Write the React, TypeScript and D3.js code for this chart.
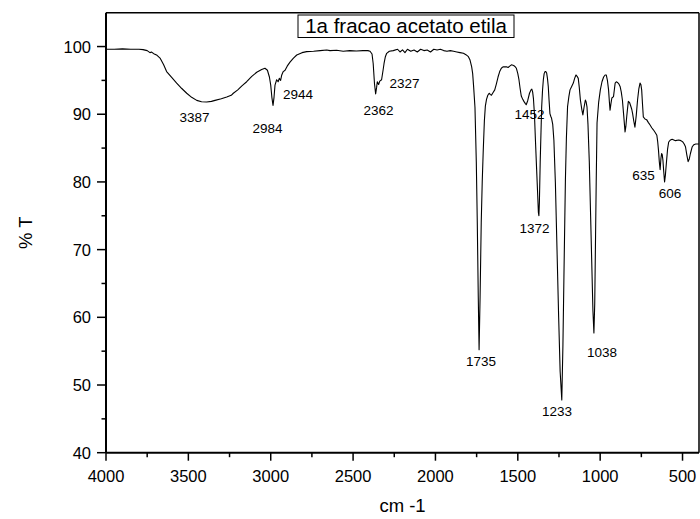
import React from "react";
import * as d3 from "d3";

const wavenumbers: number[] = [
  4000, 3950, 3900, 3850, 3800, 3775, 3750, 3733, 3725, 3710, 3690, 3672, 3650, 3632, 3600, 3571, 3540, 3510, 3480, 3449,
  3420, 3389, 3360, 3338, 3300, 3267, 3240, 3227, 3200, 3175, 3146, 3115, 3085, 3055, 3035, 3020, 3008, 3000, 2993, 2986,
  2980, 2974, 2964, 2955, 2948, 2940, 2933, 2924, 2913, 2900, 2883, 2862, 2842, 2810, 2782, 2740, 2700, 2660, 2640, 2600,
  2560, 2520, 2480, 2440, 2410, 2397, 2385, 2378, 2370, 2363, 2357, 2353, 2345, 2338, 2327, 2318, 2312, 2304, 2296, 2280,
  2256, 2230, 2215, 2200, 2185, 2170, 2150, 2130, 2110, 2090, 2070, 2050, 2030, 2010, 1990, 1970, 1950, 1930, 1910, 1890,
  1870, 1851, 1830, 1815, 1800, 1790, 1780, 1774, 1768, 1760, 1752, 1746, 1740, 1735, 1729, 1722, 1716, 1710, 1703, 1697,
  1690, 1682, 1674, 1666, 1660, 1650, 1640, 1630, 1620, 1610, 1600, 1590, 1579, 1569, 1559, 1549, 1539, 1525, 1515, 1509,
  1500, 1493, 1486, 1479, 1470, 1463, 1455, 1449, 1440, 1429, 1420, 1415, 1410, 1405, 1399, 1393, 1386, 1380, 1375, 1372,
  1369, 1364, 1358, 1355, 1350, 1345, 1340, 1335, 1330, 1325, 1320, 1315, 1310, 1305, 1300, 1295, 1288, 1281, 1272, 1262,
  1252, 1243, 1233, 1226, 1220, 1215, 1211, 1205, 1198, 1190, 1183, 1173, 1163, 1155, 1147, 1140, 1133, 1127, 1120, 1112,
  1105, 1098, 1090, 1085, 1080, 1074, 1066, 1058, 1050, 1044, 1038, 1033, 1028, 1024, 1019, 1009, 999, 989, 979, 970,
  963, 956, 949, 944, 940, 935, 929, 919, 913, 909, 902, 895, 887, 879, 872, 865, 857, 849, 844, 839,
  834, 829, 821, 813, 808, 803, 796, 789, 781, 773, 765, 758, 753, 748, 743, 738, 728, 718, 708, 697,
  687, 677, 666, 656, 651, 646, 641, 636, 631, 627, 623, 619, 614, 609, 604, 598, 591, 584, 573, 563,
  543, 523, 510, 498, 490, 482, 474, 466, 459, 452, 441, 431, 420, 411, 400,
];

const transmittance: number[] = [
  99.6, 99.6, 99.65, 99.6, 99.6, 99.55, 99.4, 99.1, 99.2, 98.95, 98.7, 98.3, 97.3, 96.3, 95.4, 94.6, 93.8, 93.1, 92.5, 92.05,
  91.85, 91.8, 91.9, 92.05, 92.3, 92.55, 92.8, 93.1, 93.6, 94.2, 94.8, 95.6, 96.2, 96.6, 96.8, 96.5, 95.5, 94.3, 92.5, 91.3,
  92.5, 94.3, 95.1, 94.8, 95.3, 95.0, 95.8, 96.3, 96.5, 97.1, 97.7, 98.3, 98.75, 99.1, 99.25, 99.3, 99.4, 99.5, 99.4, 99.45,
  99.3, 99.4, 99.35, 99.4, 99.4, 99.3, 98.9, 97.5, 94.5, 93.0, 94.0, 94.8, 94.4, 94.9, 95.1, 96.5, 97.5, 98.5, 99.0, 99.3,
  99.4, 99.6, 99.2, 99.5, 99.1, 99.6, 99.3, 99.5, 99.2, 99.6, 99.4, 99.5, 99.2, 99.6, 99.5, 99.6, 99.4, 99.3, 99.4, 99.3,
  99.2, 99.1, 99.0, 98.8, 98.5, 98.0, 97.0, 96.0, 94.0, 91.0, 83.0, 74.0, 63.0, 55.2, 63.0, 74.0, 80.0, 84.5, 89.0, 91.2,
  92.2, 92.8, 93.1, 92.9, 92.8, 93.2, 93.6, 94.5, 95.5, 96.3, 96.8, 97.0, 97.0, 97.0, 96.9, 97.1, 97.3, 97.2, 97.0, 96.8,
  96.0, 95.1, 93.8, 92.7, 92.2, 91.9, 91.6, 91.4, 92.0, 93.1, 93.6, 93.7, 93.3, 92.3, 90.0, 86.2, 82.0, 78.5, 75.5, 75.0,
  77.0, 83.0, 88.5, 91.1, 93.5, 95.1, 96.0, 96.3, 96.3, 96.1, 95.3, 94.1, 92.0, 90.1, 89.7, 89.4, 88.5, 86.2, 80.0, 70.0,
  60.0, 52.0, 47.8, 56.0, 66.0, 74.0, 80.3, 86.5, 91.1, 92.6, 93.6, 94.1, 94.6, 95.3, 95.8, 95.6, 95.3, 94.0, 92.1, 90.8,
  89.9, 91.0, 92.1, 91.8, 91.1, 88.5, 83.0, 75.0, 67.0, 61.0, 57.7, 62.0, 72.0, 80.0, 88.7, 91.8, 93.6, 94.8, 95.5, 95.8,
  95.8, 95.0, 93.6, 91.8, 90.6, 91.5, 92.4, 92.6, 93.8, 94.6, 94.8, 94.7, 94.5, 94.1, 93.3, 92.1, 89.8, 87.4, 88.2, 89.6,
  90.8, 91.9, 91.7, 91.1, 90.7, 90.1, 89.0, 88.1, 89.8, 92.1, 93.8, 94.6, 94.4, 93.6, 91.5, 89.6, 89.3, 89.2, 88.8, 88.4,
  88.0, 87.7, 87.3, 86.9, 86.0, 84.7, 83.0, 81.8, 83.5, 84.2, 84.0, 83.2, 81.5, 80.0, 81.0, 82.8, 84.8, 85.9, 86.2, 86.3,
  86.1, 86.2, 86.1, 85.9, 85.6, 85.2, 84.0, 83.0, 83.4, 84.2, 85.2, 85.5, 85.6, 85.6, 85.6,
];

// Peak annotations: text, anchor wavenumber (text centre), anchor %T (baseline)
const peakLabels: string[] = ["3387", "2984", "2944", "2362", "2327", "1452", "1372", "1735", "1233", "1038", "635", "606"];
const peakLabelX: number[] = [3463, 3019, 2834, 2346, 2188, 1429, 1399, 1723, 1262, 989, 737, 576];
const peakLabelY: number[] = [88.8, 87.2, 92.25, 89.9, 93.9, 89.3, 72.5, 52.8, 45.4, 54.1, 80.3, 77.6];

const xMajorTicks: number[] = [4000, 3500, 3000, 2500, 2000, 1500, 1000, 500];
const xMinorTicks: number[] = [3750, 3250, 2750, 2250, 1750, 1250, 750];
const yMajorTicks: number[] = [40, 50, 60, 70, 80, 90, 100];
const yMinorTicks: number[] = [45, 55, 65, 75, 85, 95];

const title = "1a fracao acetato etila";
const xTitle = "cm -1";
const yTitle = "% T";

export default function App() {
  const W = 700;
  const H = 519;
  const left = 106;
  const right = 699;
  const top = 12.7;
  const bottom = 452.7;
  const font = "'Liberation Sans', Arial, Helvetica, sans-serif";

  const x = d3.scaleLinear().domain([4000, 400]).range([left, right]);
  const y = d3.scaleLinear().domain([40, 105]).range([bottom, top]);

  const pts = wavenumbers.map((w, i) => [w, transmittance[i]] as [number, number]);
  const line = d3
    .line<[number, number]>()
    .x((d) => x(d[0]))
    .y((d) => y(d[1]));
  const path = line(pts) || "";

  return (
    <svg
      width={W}
      height={H}
      style={{ position: "absolute", left: 0, top: 0, background: "#fff" }}
      fontFamily={font}
    >
      <rect x={0} y={0} width={W} height={H} fill="#fff" />
      <path d={path} fill="none" stroke="#000" strokeWidth={1.1} strokeLinejoin="round" />

      {/* frame */}
      <line x1={left} x2={right} y1={top} y2={top} stroke="#000" strokeWidth={1.5} />
      <line x1={right} x2={right} y1={top} y2={bottom} stroke="#000" strokeWidth={1.5} />
      <line x1={left} x2={right} y1={bottom} y2={bottom} stroke="#000" strokeWidth={2} />
      <line x1={left} x2={left} y1={top} y2={bottom} stroke="#000" strokeWidth={2} />

      {/* x ticks */}
      {xMajorTicks.map((t) => (
        <g key={"xm" + t}>
          <line x1={x(t)} x2={x(t)} y1={bottom} y2={bottom + 8} stroke="#000" strokeWidth={1.5} />
          <text x={x(t)} y={482} fontSize={16.5} textAnchor="middle" fill="#000">
            {t}
          </text>
        </g>
      ))}
      {xMinorTicks.map((t) => (
        <line key={"xn" + t} x1={x(t)} x2={x(t)} y1={bottom} y2={bottom + 4.5} stroke="#000" strokeWidth={1.5} />
      ))}

      {/* y ticks */}
      {yMajorTicks.map((t) => (
        <g key={"ym" + t}>
          <line x1={left - 9} x2={left} y1={y(t)} y2={y(t)} stroke="#000" strokeWidth={1.5} />
          <text x={91} y={y(t) + 6} fontSize={16.5} textAnchor="end" fill="#000">
            {t}
          </text>
        </g>
      ))}
      {yMinorTicks.map((t) => (
        <line key={"yn" + t} x1={left - 4.5} x2={left} y1={y(t)} y2={y(t)} stroke="#000" strokeWidth={1.5} />
      ))}

      {/* axis titles */}
      <text x={(left + right) / 2} y={512} fontSize={18.5} textAnchor="middle" fill="#000">
        {xTitle}
      </text>
      <text
        transform={`translate(32,${(top + bottom) / 2}) rotate(-90)`}
        fontSize={18.5}
        textAnchor="middle"
        fill="#000"
      >
        {yTitle}
      </text>

      {/* title box */}
      <rect x={298} y={15} width={216} height={22.5} fill="#fff" stroke="#000" strokeWidth={1} />
      <text x={406} y={33} fontSize={20.5} textAnchor="middle" fill="#000">
        {title}
      </text>

      {/* peak labels */}
      {peakLabels.map((lab, i) => (
        <text key={"p" + i} x={x(peakLabelX[i])} y={y(peakLabelY[i])} fontSize={13.5} textAnchor="middle" fill="#000">
          {lab}
        </text>
      ))}
    </svg>
  );
}
